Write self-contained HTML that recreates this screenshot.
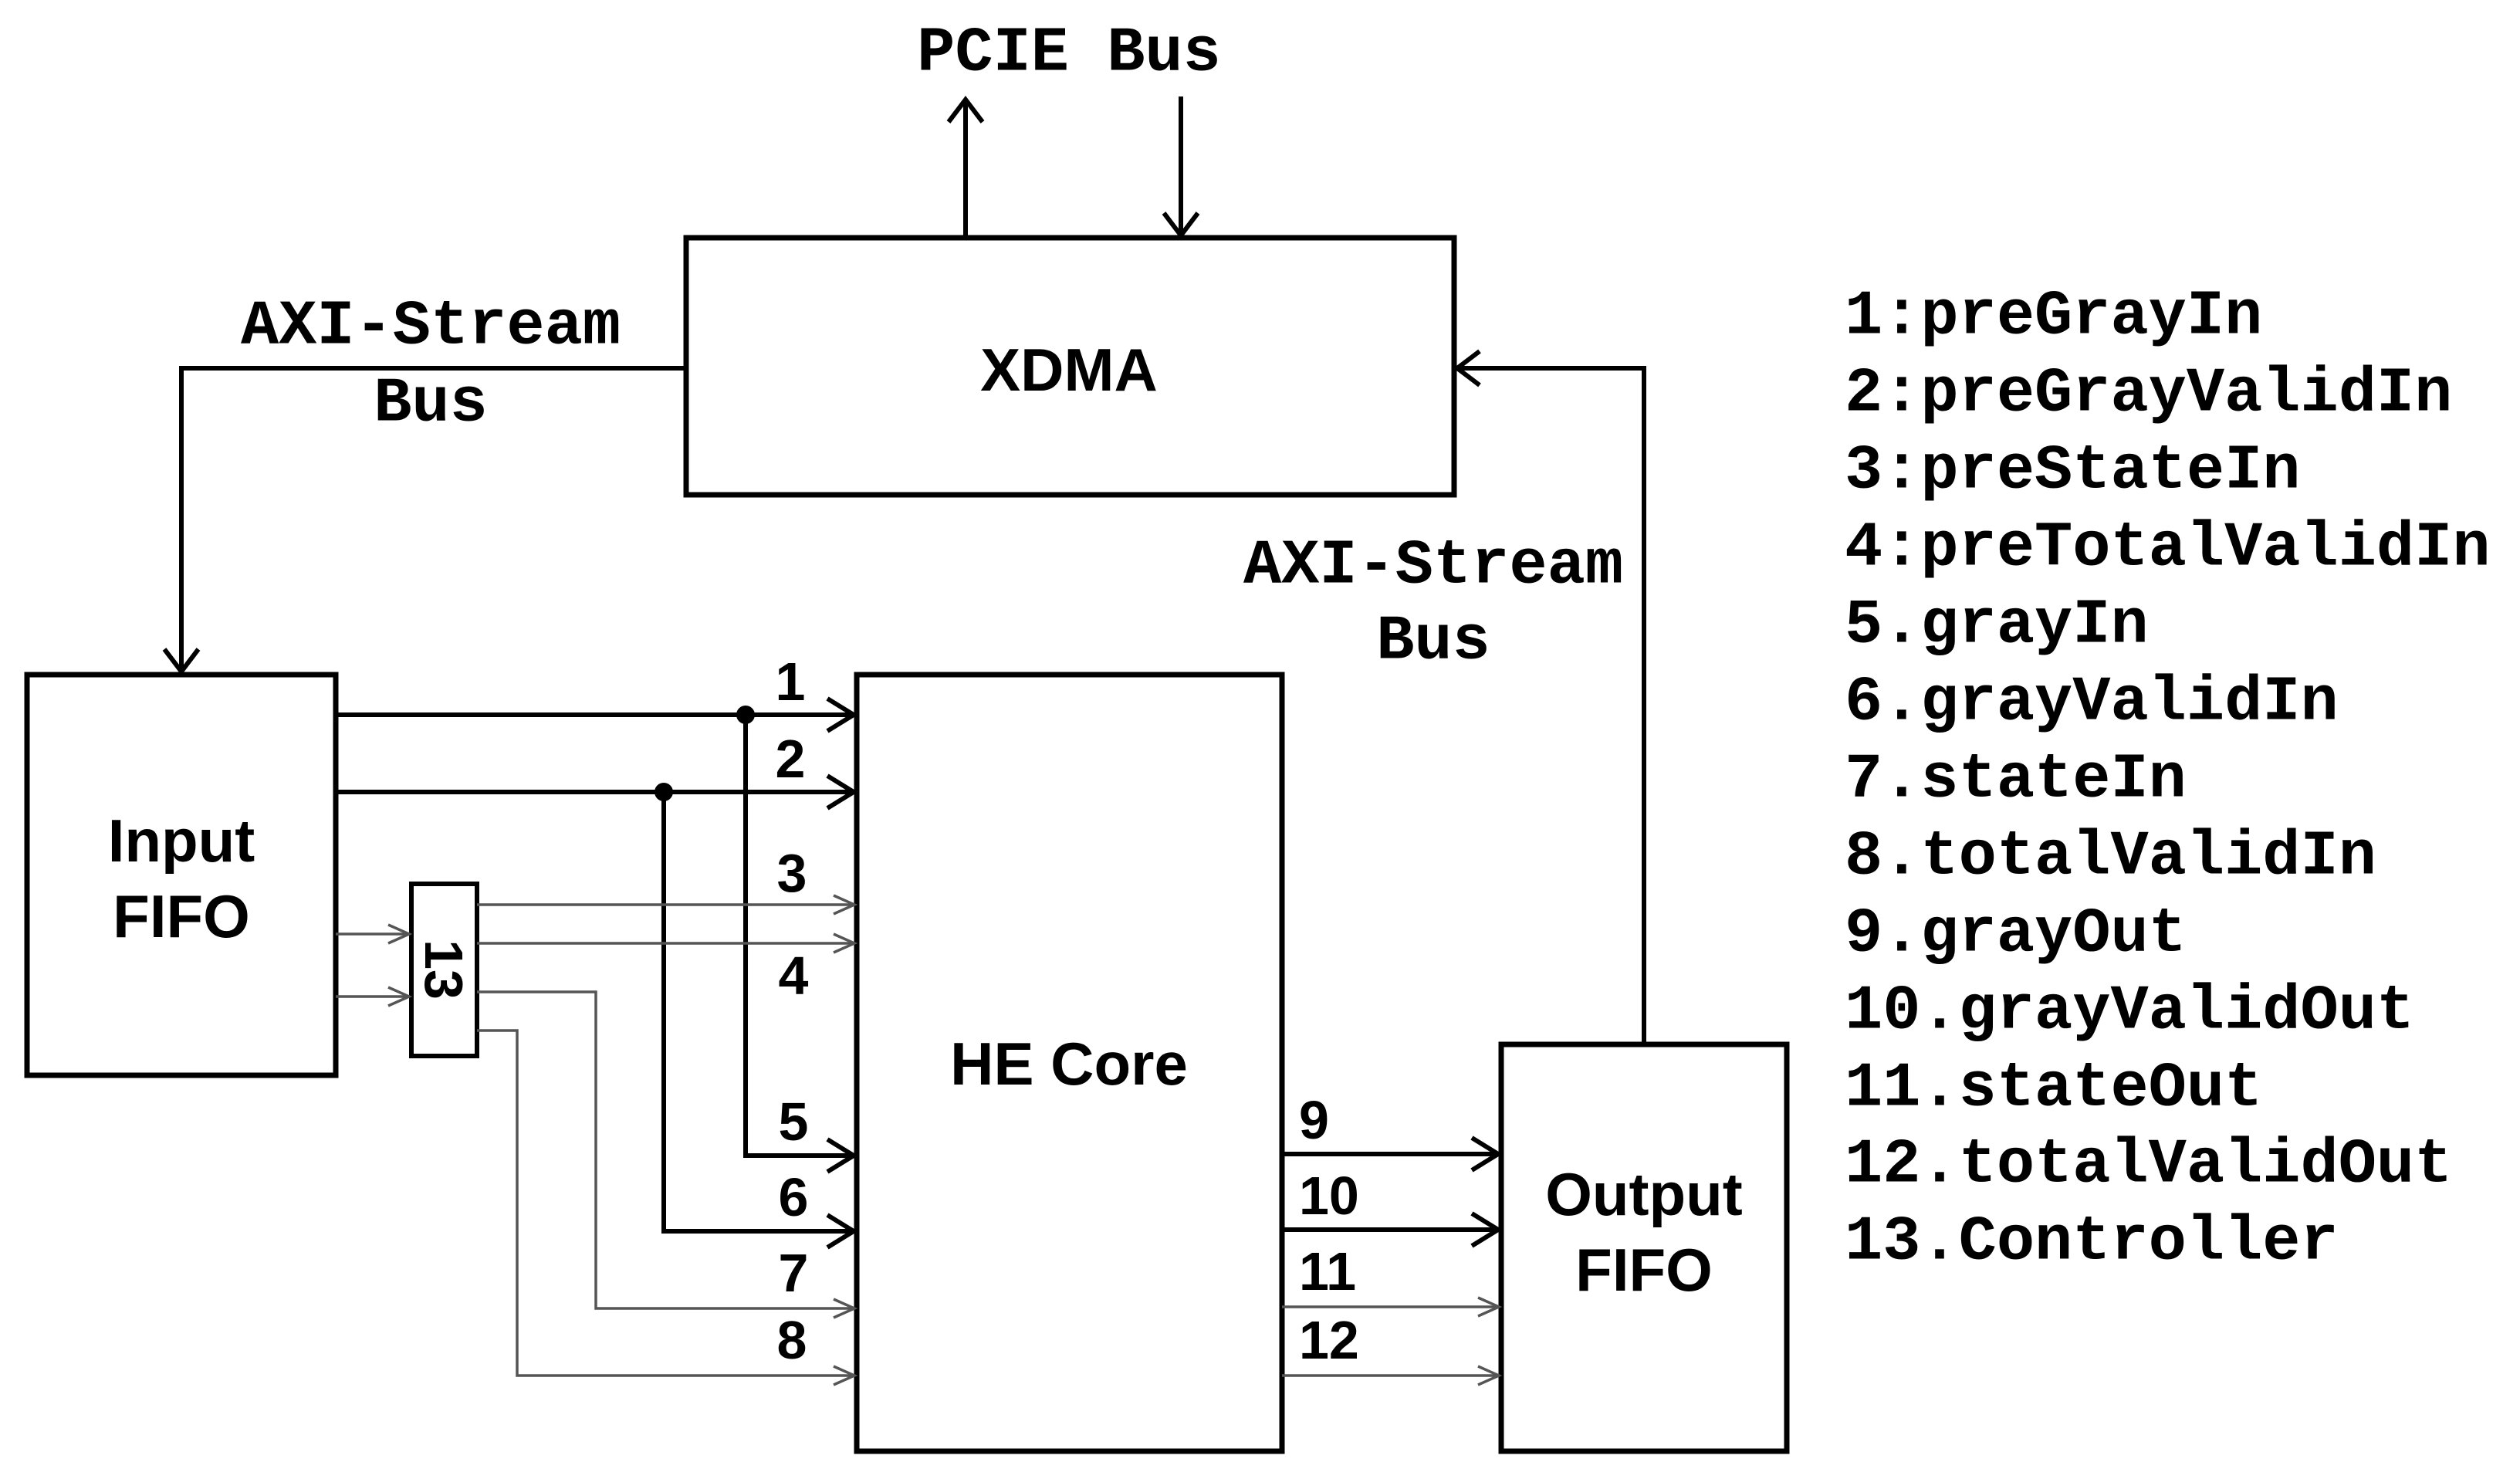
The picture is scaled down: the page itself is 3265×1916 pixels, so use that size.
<!DOCTYPE html>
<html><head><meta charset="utf-8"><style>
html,body{margin:0;padding:0;background:#fff;}
svg{display:block;}
.m{font-family:"Liberation Mono",monospace;font-weight:bold;font-size:82px;fill:#000;}
.s{font-family:"Liberation Sans",sans-serif;font-weight:bold;font-size:78px;fill:#000;}
.n{font-family:"Liberation Sans",sans-serif;font-weight:bold;font-size:70px;fill:#000;}
</style></head><body>
<svg width="3265" height="1916" viewBox="0 0 3265 1916" xmlns="http://www.w3.org/2000/svg">
<g fill="none" stroke="#000" stroke-width="6">
<rect x="889" y="308" width="995" height="333" stroke-width="7"/>
<rect x="35" y="874" width="400" height="519" stroke-width="7"/>
<rect x="1110" y="874" width="551" height="1006" stroke-width="7"/>
<rect x="1945" y="1353" width="370" height="527" stroke-width="7"/>
<rect x="533" y="1145" width="85" height="223" stroke-width="6"/>
<path d="M1251 308 V129"/><path d="M1229 158 L1251 129 L1273 158"/>
<path d="M1530 125 V305"/><path d="M1508 276 L1530 305 L1552 276"/>
<path d="M889 477 H235 V870"/><path d="M213 841 L235 870 L257 841"/>
<path d="M2130 1353 V477 H1888"/><path d="M1917 455 L1888 477 L1917 499"/>
<path d="M435 926 H1106"/><path d="M1072 905 L1106 926 L1072 947"/>
<path d="M435 1026 H1106"/><path d="M1072 1005 L1106 1026 L1072 1047"/>
<path d="M966 926 V1497 H1106"/><path d="M1072 1476 L1106 1497 L1072 1518"/>
<path d="M860 1026 V1595 H1106"/><path d="M1072 1574 L1106 1595 L1072 1616"/>
<path d="M1661 1495 H1941"/><path d="M1907 1474 L1941 1495 L1907 1516"/>
<path d="M1661 1593 H1941"/><path d="M1907 1572 L1941 1593 L1907 1614"/>
</g>
<circle cx="966" cy="926" r="12" fill="#000"/>
<circle cx="860" cy="1026" r="12" fill="#000"/>
<g fill="none" stroke="#555" stroke-width="3.5">
<path d="M435 1210 H530"/><path d="M503 1198 L530 1210 L503 1222"/>
<path d="M435 1291 H530"/><path d="M503 1279 L530 1291 L503 1303"/>
<path d="M618 1172 H1107"/><path d="M1080 1160 L1107 1172 L1080 1184"/>
<path d="M618 1222 H1107"/><path d="M1080 1210 L1107 1222 L1080 1234"/>
<path d="M618 1285 H772 V1695 H1107"/><path d="M1080 1683 L1107 1695 L1080 1707"/>
<path d="M618 1335 H670 V1782 H1107"/><path d="M1080 1770 L1107 1782 L1080 1794"/>
<path d="M1661 1693 H1942"/><path d="M1915 1681 L1942 1693 L1915 1705"/>
<path d="M1661 1782 H1942"/><path d="M1915 1770 L1942 1782 L1915 1794"/>
</g>
<g dominant-baseline="central">
<text class="m" x="1385" y="69" text-anchor="middle">PCIE Bus</text>
<text class="m" x="558" y="423" text-anchor="middle">AXI-Stream</text>
<text class="m" x="558" y="523" text-anchor="middle">Bus</text>
<text class="m" x="1857" y="733" text-anchor="middle">AXI-Stream</text>
<text class="m" x="1857" y="831" text-anchor="middle">Bus</text>
<text class="s" x="1385" y="479" text-anchor="middle">XDMA</text>
<text class="s" x="235" y="1089" text-anchor="middle">Input</text>
<text class="s" x="235" y="1187" text-anchor="middle">FIFO</text>
<text class="s" x="1385" y="1378" text-anchor="middle">HE Core</text>
<text class="s" x="2130" y="1547" text-anchor="middle">Output</text>
<text class="s" x="2130" y="1645" text-anchor="middle">FIFO</text>
<text class="n" transform="translate(575,1256) rotate(90)" text-anchor="middle">13</text>
<g text-anchor="middle">
<text class="n" x="1024" y="883">1</text>
<text class="n" x="1024" y="983">2</text>
<text class="n" x="1026" y="1131">3</text>
<text class="n" x="1028" y="1264">4</text>
<text class="n" x="1028" y="1453">5</text>
<text class="n" x="1028" y="1551">6</text>
<text class="n" x="1028" y="1649">7</text>
<text class="n" x="1026" y="1736">8</text>
</g>
<text class="n" x="1683" y="1451">9</text>
<text class="n" x="1683" y="1549">10</text>
<text class="n" x="1683" y="1647">11</text>
<text class="n" x="1683" y="1736">12</text>
<text class="m" x="2390" y="410">1:preGrayIn</text>
<text class="m" x="2390" y="510">2:preGrayValidIn</text>
<text class="m" x="2390" y="610">3:preStateIn</text>
<text class="m" x="2390" y="710">4:preTotalValidIn</text>
<text class="m" x="2390" y="810">5.grayIn</text>
<text class="m" x="2390" y="910">6.grayValidIn</text>
<text class="m" x="2390" y="1010">7.stateIn</text>
<text class="m" x="2390" y="1110">8.totalValidIn</text>
<text class="m" x="2390" y="1210">9.grayOut</text>
<text class="m" x="2390" y="1310">10.grayValidOut</text>
<text class="m" x="2390" y="1410">11.stateOut</text>
<text class="m" x="2390" y="1509">12.totalValidOut</text>
<text class="m" x="2390" y="1609">13.Controller</text>
</g>
</svg>
</body></html>
